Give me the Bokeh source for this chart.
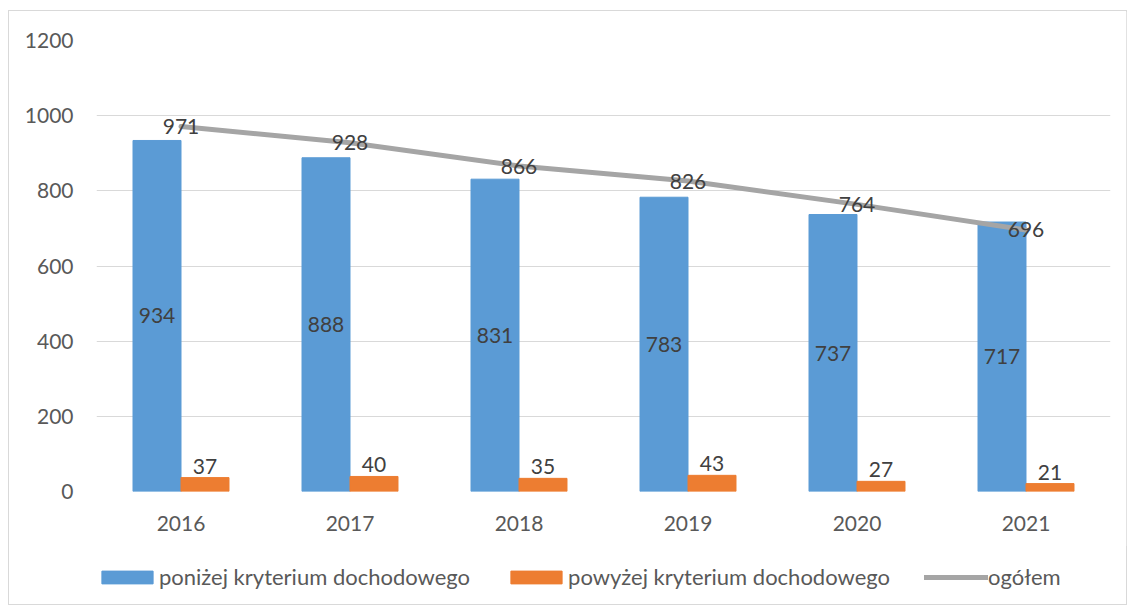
from bokeh.plotting import figure
from bokeh.models import ColumnDataSource, Range1d, FactorRange, Legend, LegendItem, SingleIntervalTicker
from bokeh.layouts import column
from bokeh.transform import dodge
from bokeh.core.properties import value
from bokeh.embed import file_html
from bokeh.resources import INLINE

years = ["2016", "2017", "2018", "2019", "2020", "2021"]
below = [934, 888, 831, 783, 737, 717]
above = [37, 40, 35, 43, 27, 21]
total = [971, 928, 866, 826, 764, 696]
series_names = ["poniżej kryterium dochodowego", "powyżej kryterium dochodowego", "ogółem"]

FONT = "Lato"
FS = "21px"
TICK_COLOR = "#595959"
LABEL_COLOR = "#404040"
BLUE, ORANGE, GREY = "#5B9BD5", "#ED7D31", "#A5A5A5"

src = ColumnDataSource(dict(
    year=years, below=below, above=above, total=total,
    below_mid=[v / 2 for v in below],
    below_txt=[str(v) for v in below],
    above_txt=[str(v) for v in above],
    total_txt=[str(v) for v in total],
))

p = figure(x_range=FactorRange(factors=years, range_padding=0),
           y_range=Range1d(0, 1200),
           frame_width=1016, frame_height=451,
           min_border_left=87, min_border_right=16, min_border_top=29, min_border_bottom=55,
           output_backend="svg", toolbar_location=None)
p.outline_line_color = None
p.background_fill_color = "white"
p.border_fill_color = "white"

W = 0.284
OFF = 0.142
p.vbar(x=dodge("year", -OFF, range=p.x_range), top="below", width=W, source=src,
       fill_color=BLUE, line_color=BLUE)
p.vbar(x=dodge("year", OFF, range=p.x_range), top="above", width=W, source=src,
       fill_color=ORANGE, line_color=ORANGE)
p.line(x="year", y="total", source=src, line_color=GREY, line_width=5, line_cap="round")

p.text(x=dodge("year", -OFF, range=p.x_range), y="below_mid", text="below_txt", source=src,
       text_font=value(FONT), text_font_size=FS, text_color=LABEL_COLOR,
       text_align="center", text_baseline="middle")
p.text(x=dodge("year", OFF, range=p.x_range), y="above", text="above_txt", source=src,
       text_font=value(FONT), text_font_size=FS, text_color=LABEL_COLOR,
       text_align="center", text_baseline="bottom", y_offset=-4)
p.text(x="year", y="total", text="total_txt", source=src,
       text_font=value(FONT), text_font_size=FS, text_color=LABEL_COLOR,
       text_align="center", text_baseline="middle")

p.yaxis.ticker = SingleIntervalTicker(interval=200)
p.yaxis.axis_line_color = None
p.yaxis.major_tick_line_color = None
p.yaxis.minor_tick_line_color = None
p.yaxis.major_label_standoff = 17
p.yaxis.major_label_text_font = FONT
p.yaxis.major_label_text_font_size = FS
p.yaxis.major_label_text_color = TICK_COLOR

p.xaxis.axis_line_color = None
p.xaxis.major_tick_line_color = None
p.xaxis.minor_tick_line_color = None
p.xaxis.major_label_standoff = 18
p.xaxis.major_label_text_font = FONT
p.xaxis.major_label_text_font_size = FS
p.xaxis.major_label_text_color = TICK_COLOR

p.xgrid.grid_line_color = None
p.ygrid.grid_line_color = "#D9D9D9"
p.ygrid.grid_line_width = 1
p.ygrid.ticker = SingleIntervalTicker(interval=200)

# legend strip: same series/styles, drawn out of view so only the legend shows
q = figure(width=1119, height=58,
           x_range=FactorRange(factors=years, range_padding=0), y_range=Range1d(5000, 6000),
           x_axis_location=None, y_axis_location=None,
           min_border=0, output_backend="svg", toolbar_location=None)
q.outline_line_color = None
q.xgrid.grid_line_color = None
q.ygrid.grid_line_color = None
q.background_fill_color = "white"
q.border_fill_color = "white"
r1 = q.vbar(x="year", top="below", width=W, source=src, fill_color=BLUE, line_color=BLUE)
r2 = q.vbar(x="year", top="above", width=W, source=src, fill_color=ORANGE, line_color=ORANGE)
r3 = q.line(x="year", y="total", source=src, line_color=GREY, line_width=5, line_cap="round")

legend = Legend(items=[
    LegendItem(label=series_names[0], renderers=[r1]),
    LegendItem(label=series_names[1], renderers=[r2]),
    LegendItem(label=series_names[2], renderers=[r3]),
], orientation="horizontal", location=(-1, 14))
legend.border_line_color = None
legend.background_fill_alpha = 0
legend.padding = 0
legend.margin = 0
legend.spacing = 34
legend.label_standoff = 0
legend.glyph_width = 64
legend.glyph_height = 16
legend.label_text_font = FONT
legend.label_text_font_size = "22px"
legend.label_text_color = TICK_COLOR
q.add_layout(legend, "center")

layout = column(p, q, spacing=0)
layout.styles = {"margin-top": "10px", "margin-left": "8px", "border": "1px solid #D9D9D9",
                 "width": "1119px"}

open("out.html", "w").write(file_html(layout, INLINE))
